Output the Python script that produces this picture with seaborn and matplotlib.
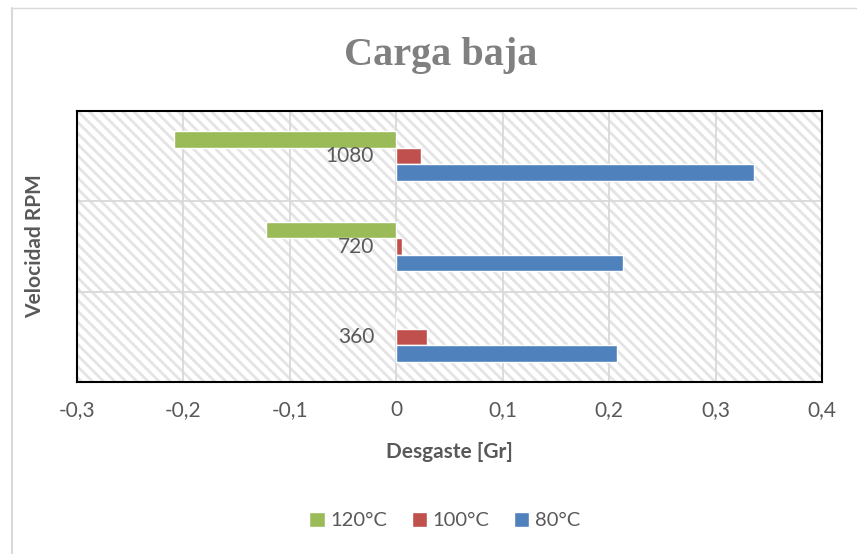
import pandas as pd
import matplotlib.pyplot as plt
import seaborn as sns
from matplotlib.patches import Rectangle
from matplotlib.lines import Line2D

# -----------------------------
# Data (Desgaste [Gr] por velocidad y temperatura)
# -----------------------------
velocidades = ['1080', '720', '360']
temperaturas = ['120°C', '100°C', '80°C']
desgaste_120 = [-0.209, -0.122, 0.0]
desgaste_100 = [0.023, 0.005, 0.029]
desgaste_80 = [0.336, 0.213, 0.207]
x_ticks = [-0.3, -0.2, -0.1, 0, 0.1, 0.2, 0.3, 0.4]
x_tick_labels = ['-0,3', '-0,2', '-0,1', '0', '0,1', '0,2', '0,3', '0,4']

df = pd.DataFrame({
    'Velocidad': velocidades * 3,
    'Temperatura': [t for t in temperaturas for _ in velocidades],
    'Desgaste': desgaste_120 + desgaste_100 + desgaste_80,
})

colores = {'120°C': '#9BBB59', '100°C': '#C0504D', '80°C': '#4F81BD'}

sns.set_style('white')
plt.rcParams['font.family'] = ['Lato', 'DejaVu Sans']
plt.rcParams['hatch.color'] = '#e4e4e4'
plt.rcParams['hatch.linewidth'] = 2.0

fig = plt.figure(figsize=(8.57, 5.54), dpi=100)
ax = fig.add_axes([77 / 857, 1 - 382 / 554, 745 / 857, 271 / 554])

# hatched plot background
ax.add_patch(Rectangle((0, 0), 1, 1, transform=ax.transAxes, facecolor='white',
                       edgecolor='#e4e4e4', hatch='\\\\\\', linewidth=0, zorder=0))

sns.barplot(data=df, x='Desgaste', y='Velocidad', hue='Temperatura',
            order=velocidades, hue_order=temperaturas, palette=colores,
            width=0.55, saturation=1, orient='h', ax=ax, zorder=3)

ax.set_xlim(-0.3, 0.4)
ax.set_ylim(2.5, -0.5)
ax.set_xticks(x_ticks)
ax.set_xticklabels(x_tick_labels)
ax.set_yticks([0.5, 1.5], minor=True)
ax.set_yticks([])
ax.tick_params(axis='x', length=0, pad=13, labelsize=15, labelcolor='#595959')
ax.grid(axis='x', color='#d9d9d9', linewidth=1.3, zorder=1)
ax.grid(axis='y', which='minor', color='#d9d9d9', linewidth=1.3, zorder=1)
ax.set_axisbelow(True)
for s in ax.spines.values():
    s.set_color('black')
    s.set_linewidth(1.5)

# category labels next to the zero line
for i, v in enumerate(velocidades):
    ax.annotate(v, xy=(0, i), xytext=(-16, 0), textcoords='offset points',
                ha='right', va='center', fontsize=15, color='#595959', zorder=4)

ax.set_xlabel('Desgaste [Gr]', fontsize=15, fontweight='bold', color='#595959')
ax.set_ylabel('Velocidad RPM', fontsize=15, fontweight='bold', color='#595959')
ax.xaxis.set_label_coords(0.5, -0.258)
ax.xaxis.label.set_va('center')
ax.yaxis.set_label_coords(-0.056, 0.5)
ax.yaxis.label.set_va('center')

fig.text(0.514, 0.9, 'Carga baja', ha='center', va='center', fontsize=29,
         fontweight='bold', color='#808080', family=['Liberation Serif', 'DejaVu Serif'])

sns.move_legend(ax, 'center', bbox_to_anchor=(0.519, 0.06), bbox_transform=fig.transFigure,
                ncol=3, frameon=False, title=None, fontsize=14.5, handlelength=0.75,
                handleheight=0.75, handletextpad=0.3, columnspacing=1.2)
for t in ax.get_legend().get_texts():
    t.set_color('#595959')

# light chart frame
fig.add_artist(Line2D([11.5 / 857, 11.5 / 857], [0, 1 - 8 / 554], transform=fig.transFigure,
                      color='#d9d9d9', linewidth=1.5))
fig.add_artist(Line2D([11.5 / 857, 1], [1 - 8 / 554, 1 - 8 / 554], transform=fig.transFigure,
                      color='#d9d9d9', linewidth=1.0))

fig.savefig('out.png', dpi=100)
